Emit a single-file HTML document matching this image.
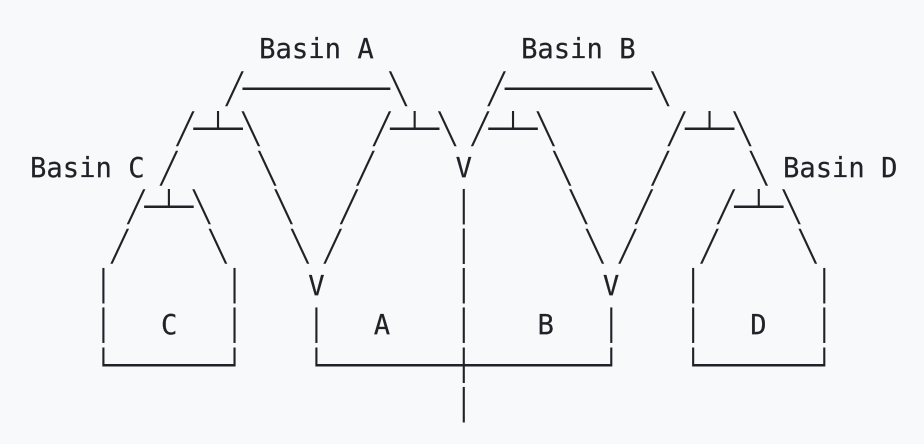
<!DOCTYPE html>
<html lang="en">
<head>
<meta charset="utf-8">
<title>Basin diagram</title>
<style>
  html, body { margin: 0; padding: 0; width: 924px; height: 444px; overflow: hidden; background: #f8f9fa; }
  pre {
    position: absolute; margin: 0; padding: 0;
    font-family: "DejaVu Sans Mono", "Liberation Mono", monospace;
    font-size: 27.2px; color: #1f2328; white-space: pre;
    font-variant-ligatures: none;
  }
  .labels { left: 30px; top: 30.3px; line-height: 39.44px; letter-spacing: 0; -webkit-text-stroke: 0.2px #1f2328; }
  .lines { left: 29.6px; top: 31px; line-height: 35.855px; letter-spacing: 0.015px; transform: scaleY(1.1); transform-origin: 0 0; }
</style>
</head>
<body>
<pre class="lines">

            ╱─────────╲     ╱─────────╲
         ╱─┴─╲       ╱─┴─╲ ╱─┴─╲       ╱─┴─╲
        ╱     ╲     ╱           ╲     ╱     ╲
      ╱─┴─╲    ╲   ╱      │      ╲   ╱    ╱─┴─╲
     ╱     ╲    ╲ ╱       │       ╲ ╱    ╱     ╲
    │       │             │             │       │
    │       │    │        │        │    │       │
    └───────┘    └────────┼────────┘    └───────┘
                          │</pre>
<pre class="labels">              <span>Basin A</span>         <span>Basin B</span>


<span>Basin C</span>                   <span>V</span>                   <span>Basin D</span>


                 <span>V</span>                 <span>V</span>
        <span>C</span>            <span>A</span>         <span>B</span>            <span>D</span></pre>
</body>
</html>
